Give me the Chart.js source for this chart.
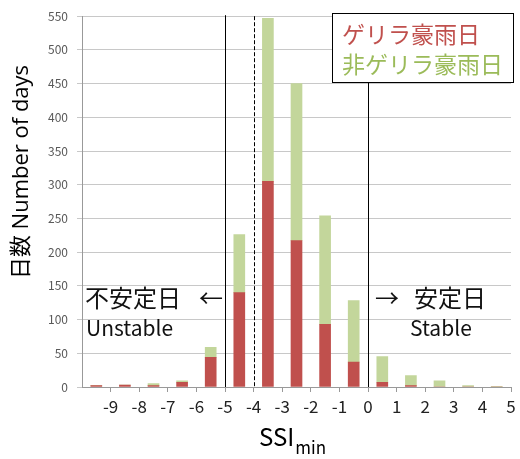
<!DOCTYPE html>
<html>
<head>
<meta charset="utf-8">
<script src="https://cdn.jsdelivr.net/npm/chart.js@4.4.1/dist/chart.umd.min.js"></script>
<style>
  html, body { margin: 0; padding: 0; background: #fff; }
</style>
</head>
<body>
<canvas id="ssiChart" width="520" height="459"></canvas>
<script>
// bins of SSImin, bar drawn at the centre of each 1-wide bin
const binCenters = [-9.5, -8.5, -7.5, -6.5, -5.5, -4.5, -3.5, -2.5, -1.5, -0.5, 0.5, 1.5, 2.5, 3.5, 4.5];
const guerrillaDays = [2, 3, 2, 7, 44, 140, 305, 217, 93, 37, 7, 2, 0, 0, 0];
const nonGuerrillaDays = [0, 0, 3, 2, 15, 86, 242, 233, 161, 91, 38, 15, 9, 2, 1];
const xTickValues = [-9, -8, -7, -6, -5, -4, -3, -2, -1, 0, 1, 2, 3, 4, 5];
const solidLineAt = [-5, 0];
const dashedLineAt = [-4];
const seriesNames = ['ゲリラ豪雨日', '非ゲリラ豪雨日'];
const yTitle = '日数 Number of days';

const FONT = "'Noto Sans CJK JP', 'Noto Sans', sans-serif";
const RED = '#C0504D';
const GREEN = '#C3D69B';
const GREEN_TEXT = '#9BBB59';

const overlayPlugin = {
    id: 'overlays',
    afterDatasetsDraw(chart) {
        const ctx = chart.ctx;
        const x = chart.scales.x;
        const area = chart.chartArea;
        ctx.save();

        // boundary lines
        ctx.strokeStyle = '#000';
        ctx.lineWidth = 1;
        solidLineAt.forEach(v => {
            const px = Math.round(x.getPixelForValue(v)) + 0.5;
            ctx.setLineDash([]);
            ctx.beginPath();
            ctx.moveTo(px, area.top - 1);
            ctx.lineTo(px, area.bottom);
            ctx.stroke();
        });
        dashedLineAt.forEach(v => {
            const px = Math.round(x.getPixelForValue(v)) + 0.5;
            ctx.setLineDash([4, 2]);
            ctx.beginPath();
            ctx.moveTo(px, area.top);
            ctx.lineTo(px, area.bottom);
            ctx.stroke();
        });
        ctx.setLineDash([]);

        // legend box
        ctx.fillStyle = '#fff';
        ctx.fillRect(332, 13, 182, 70);
        ctx.strokeStyle = '#000';
        ctx.strokeRect(332.5, 13.5, 181, 69);
        ctx.font = '23px ' + FONT;
        ctx.textBaseline = 'middle';
        ctx.textAlign = 'left';
        ctx.fillStyle = RED;
        ctx.fillText(seriesNames[0], 342, 34);
        ctx.fillStyle = GREEN_TEXT;
        ctx.fillText(seriesNames[1], 342, 64);

        // stability notes
        ctx.fillStyle = '#111';
        ctx.font = '24px ' + FONT;
        ctx.fillText('不安定日', 85, 298);
        ctx.fillText('←', 199, 298);
        ctx.fillText('→', 375, 298);
        ctx.fillText('安定日', 414, 298);
        ctx.font = '21px ' + FONT;
        ctx.fillText('Unstable', 86, 328);
        ctx.fillText('Stable', 410, 328);

        // x title with subscript
        ctx.textBaseline = 'alphabetic';
        ctx.font = '24px ' + FONT;
        ctx.fillStyle = '#000';
        ctx.fillText('SSI', 259, 446);
        const w = ctx.measureText('SSI').width;
        ctx.font = '17px ' + FONT;
        ctx.fillText('min', 259 + w + 1, 454);

        // y title
        ctx.translate(22, 172);
        ctx.rotate(-Math.PI / 2);
        ctx.textAlign = 'center';
        ctx.textBaseline = 'middle';
        ctx.font = "22px 'Open Sans', 'Noto Sans CJK JP', sans-serif";
        ctx.fillText(yTitle, 0, 0);

        ctx.restore();
    }
};

new Chart(document.getElementById('ssiChart'), {
    type: 'bar',
    data: {
        datasets: [{
            label: seriesNames[0],
            data: binCenters.map((c, i) => ({ x: c, y: guerrillaDays[i] })),
            backgroundColor: RED,
            barThickness: 11,
            grouped: false
        }, {
            label: seriesNames[1],
            data: binCenters.map((c, i) => ({ x: c, y: nonGuerrillaDays[i] })),
            backgroundColor: GREEN,
            barThickness: 11,
            grouped: false
        }]
    },
    options: {
        responsive: false,
        animation: false,
        devicePixelRatio: 1,
        layout: { padding: { top: 13, right: 9, left: 0, bottom: 0 } },
        plugins: {
            legend: { display: false },
            tooltip: { enabled: false }
        },
        scales: {
            x: {
                type: 'linear',
                offset: false,
                min: -10,
                max: 5,
                afterBuildTicks: s => { s.ticks = xTickValues.map(v => ({ value: v })); },
                afterFit: s => { s.height = 72; },
                grid: { drawOnChartArea: false, tickLength: 5, color: '#999', offset: false },
                border: { color: '#999' },
                ticks: {
                    color: '#222',
                    font: { family: FONT, size: 17 },
                    padding: 4,
                    maxRotation: 0,
                    autoSkip: false
                }
            },
            y: {
                stacked: true,
                min: 0,
                max: 550,
                afterFit: s => { s.width = 82; },
                grid: { color: '#c8c8c8', tickLength: 5 },
                border: { color: '#999' },
                ticks: {
                    stepSize: 50,
                    color: '#595959',
                    font: { family: FONT, size: 12 },
                    padding: 9
                }
            }
        }
    },
    plugins: [overlayPlugin]
});
</script>
</body>
</html>
